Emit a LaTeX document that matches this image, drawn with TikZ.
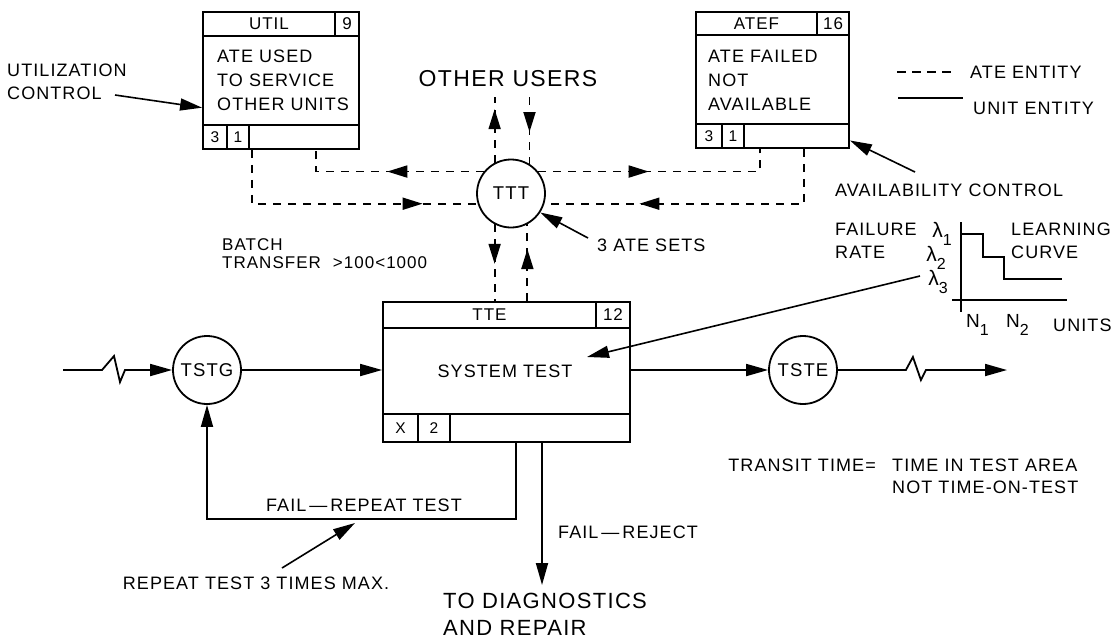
\documentclass[tikz,border=0pt]{standalone}
\usepackage{fontspec}
\setmainfont{Liberation Sans}[LetterSpace=6]
\usetikzlibrary{arrows.meta,decorations.markings,calc}
\tikzset{
  lw/.style={line width=1.8pt},
  ate/.style={line width=1.8pt, dash pattern=on 8pt off 7pt},
  unit/.style={line width=1.8pt},
  ann/.style={line width=1.6pt, -{Triangle[length=22pt,width=12pt]}},
  tip/.style={-{Triangle[length=22pt,width=12pt]}},
  marr/.style={postaction={decorate}, decoration={markings,
      mark=at position #1 with {\arrow{Triangle[length=20pt,width=12pt]}}}},
  box/.style={draw, rectangle, line width=1.8pt, inner sep=0pt},
  circ/.style={draw, circle, line width=1.8pt, minimum size=68pt, inner sep=0pt,
      font=\fontsize{18.5}{20}\selectfont},
  lbl/.style={inner sep=0pt, font=\fontsize{18}{23}\selectfont},
  hdr/.style={inner sep=0pt, font=\fontsize{17}{18}\selectfont},
  cell/.style={inner sep=0pt, font=\fontsize{15.5}{18}\selectfont},
  big/.style={inner sep=0pt, font=\fontsize{22}{27}\selectfont},
  lam/.style={inner sep=0pt, font=\fontsize{21}{23}\selectfont},
}
\newcommand{\subs}[1]{\raisebox{-0.38em}{\fontsize{16}{16}\selectfont #1}}
\begin{document}
\begin{tikzpicture}[x=1pt,y=-1pt]
\useasboundingbox (0,0) rectangle (1116,638);

% ---------------- boxes ----------------
\node[box, minimum width=156pt, minimum height=137pt] (util) at (281,80.5) {};
\draw[lw] (203,36) -- (359,36);
\draw[lw] (335,12) -- (335,36);
\draw[lw] (203,125) -- (359,125);
\draw[lw] (227,125) -- (227,149);
\draw[lw] (249,125) -- (249,149);
\node[hdr] (utilh) at (269,24) {UTIL};
\node[hdr] (utiln) at (347,24) {9};
\node[cell] (utilc1) at (215,137) {3};
\node[cell] (utilc2) at (238,137) {1};
\node[lbl, align=left, anchor=north west, font=\fontsize{18}{24}\selectfont] (utilt) at (217,50)
  {ATE USED\\TO SERVICE\\OTHER UNITS};

\node[box, minimum width=153pt, minimum height=136pt] (atef) at (772.5,80) {};
\draw[lw] (696,35) -- (849,35);
\draw[lw] (817,12) -- (817,35);
\draw[lw] (696,124) -- (849,124);
\draw[lw] (722,124) -- (722,148);
\draw[lw] (744,124) -- (744,148);
\node[hdr] (atefh) at (756.5,23.5) {ATEF};
\node[hdr] (atefn) at (833,23.5) {16};
\node[cell] (atefc1) at (709,136) {3};
\node[cell] (atefc2) at (733,136) {1};
\node[lbl, align=left, anchor=north west, font=\fontsize{18}{24}\selectfont] (ateft) at (708,50)
  {ATE FAILED\\NOT\\AVAILABLE};

\node[box, minimum width=247pt, minimum height=140pt] (tte) at (506.5,372) {};
\draw[lw] (383,328) -- (630,328);
\draw[lw] (596,302) -- (596,328);
\draw[lw] (383,414) -- (630,414);
\draw[lw] (418,414) -- (418,442);
\draw[lw] (450,414) -- (450,442);
\node[hdr] (tteh) at (489.5,315) {TTE};
\node[hdr] (tten) at (613,315) {12};
\node[cell] (ttec1) at (400.5,428) {X};
\node[cell] (ttec2) at (434,428) {2};
\node[lbl, font=\fontsize{18}{22}\selectfont] (systest) at (505,371) {SYSTEM TEST};

% ---------------- circles ----------------
\node[circ] (ttt) at (511,193.5) {TTT};
\node[circ] (tstg) at (207,370) {TSTG};
\node[circ] (tste) at (803,370) {TSTE};

% ---------------- coordinates ----------------
\coordinate (cU1) at (252,0);
\coordinate (cU2) at (316,0);
\coordinate (cA1) at (760,0);
\coordinate (cA2) at (804,0);
\coordinate (ou1) at (495,97);
\coordinate (ou2) at (529,97);
\coordinate (in) at (63,370);
\coordinate (out) at (1007,370);
\coordinate (loopc) at (516,519);
\coordinate (diagin) at (542,585);
\coordinate (ucs) at (115,95);
\coordinate (avs) at (915,172);
\coordinate (ates) at (588,238);
\coordinate (lcs) at (920,276);
\coordinate (lct) at (587,357);
\coordinate (rps) at (282,568);
\coordinate (rpt) at (355,523);

% ---------------- ATE (dashed) connectors ----------------
\draw[ate, marr=96.6pt] (ttt.141) -- (ttt.141 -| cU2) -- (util.south -| cU2);
\draw[ate, marr=110.6pt] (ttt.39) -- (ttt.39 -| cA1) -- (atef.south -| cA1);
\draw[ate, marr=224.4pt] (util.south -| cU1) -- (ttt.197 -| cU1) -- (ttt.197);
\draw[ate, marr=219.4pt] (atef.south -| cA2) -- (ttt.343 -| cA2) -- (ttt.343);
\draw[ate, marr=53.5pt] (ttt.118) -- (ttt.118 |- ou1);
\draw[ate, marr=35pt] (ttt.58 |- ou2) -- (ttt.58);
\draw[ate, marr=39.5pt] (ttt.242) -- (tte.north -| ttt.242);
\draw[ate, marr=52pt] (tte.north -| ttt.298) -- (ttt.298);

% ---------------- unit (solid) connectors ----------------
\draw[unit, tip] (in) -- ++(39,0) -- ++(12,-14) -- ++(6,26) -- ++(5,-12) -- (tstg.west);
\draw[unit, tip] (tstg.east) -- (tstg.east -| tte.west);
\draw[unit, tip] (tste.west -| tte.east) -- (tste.west);
\draw[unit, tip] (tste.east) -- ++(68,0) -- ++(7,-13) -- ++(8,23) -- ++(5,-10) -- (out);
\draw[unit, tip] (tte.south -| loopc) -- (loopc) -- (loopc -| tstg.south) -- (tstg.south);
\draw[unit, tip] (tte.south -| diagin) -- (diagin);

% ---------------- annotation arrows ----------------
\draw[ann] (ucs) -- (util.199);
\draw[ann] (avs) -- (atef.-38);
\draw[ann] (ates) -- (ttt.-33);
\draw[ann] (lcs) -- (lct);
\draw[ann] (rps) -- (rpt);

% ---------------- texts ----------------
\node[lbl, align=left, anchor=west] (uc) at (7,81.5) {UTILIZATION\\CONTROL};
\node[big, font=\fontsize{23}{27}\selectfont] (other) at (508,79) {OTHER USERS};
\node[lbl, anchor=west] (avail) at (835,190) {AVAILABILITY CONTROL};
\node[lbl, align=left, anchor=west, font=\fontsize{17}{18}\selectfont] (batch) at (222,254)
  {BATCH\\TRANSFER\hspace{12pt}>100<1000};
\node[lbl, anchor=west] (atesets) at (597,245) {3 ATE SETS};
\node[lbl, anchor=center] (failrep) at (364,505) {FAIL\,—\,REPEAT TEST};
\node[lbl, anchor=west] (failrej) at (558,532) {FAIL\,—\,REJECT};
\node[lbl, anchor=center] (rep3) at (256,583) {REPEAT TEST 3 TIMES MAX.};
\node[big, align=left, anchor=north west] (diag) at (443,593) {TO DIAGNOSTICS\\AND REPAIR};
\node[lbl, anchor=east] (transit) at (876,465) {TRANSIT TIME=};
\node[lbl, align=left, anchor=north west, font=\fontsize{18}{22}\selectfont] (tita) at (892,458.5)
  {TIME IN TEST AREA\\NOT TIME-ON-TEST};

% ---------------- legend ----------------
\coordinate (lga) at (897,72);
\coordinate (lgb) at (953,72);
\coordinate (lgc) at (898,98);
\coordinate (lgd) at (963,98);
\draw[line width=1.6pt, dash pattern=on 9pt off 6pt] (lga) -- (lgb);
\draw[line width=1.6pt] (lgc) -- (lgd);
\node[lbl, anchor=west] (lgate) at (970,72) {ATE ENTITY};
\node[lbl, anchor=west] (lgunit) at (973,108) {UNIT ENTITY};

% ---------------- learning curve ----------------
\draw[line width=2.4pt] (961,222) -- (961,312);
\draw[line width=2pt] (952,300) -- (1067,300);
\draw[line width=2pt] (961,234) -- (983,234) -- (983,257) -- (1004,257) -- (1004,279) -- (1062,279);
\node[lam, anchor=east] (l1) at (952,234) {λ\subs{1}};
\node[lam, anchor=east] (l2) at (946,258) {λ\subs{2}};
\node[lam, anchor=east] (l3) at (948,282) {λ\subs{3}};
\node[lbl, align=left, anchor=west] (frate) at (835,240.5) {FAILURE\\RATE};
\node[lbl, align=left, anchor=west] (lcurve) at (1011,240.5) {LEARNING\\CURVE};
\node[lam, anchor=west, font=\fontsize{19}{20}\selectfont] (n1) at (966,325) {N\subs{1}};
\node[lam, anchor=west, font=\fontsize{19}{20}\selectfont] (n2) at (1006,325) {N\subs{2}};
\node[lbl, anchor=west] (units) at (1053,325) {UNITS};
\end{tikzpicture}
\end{document}
